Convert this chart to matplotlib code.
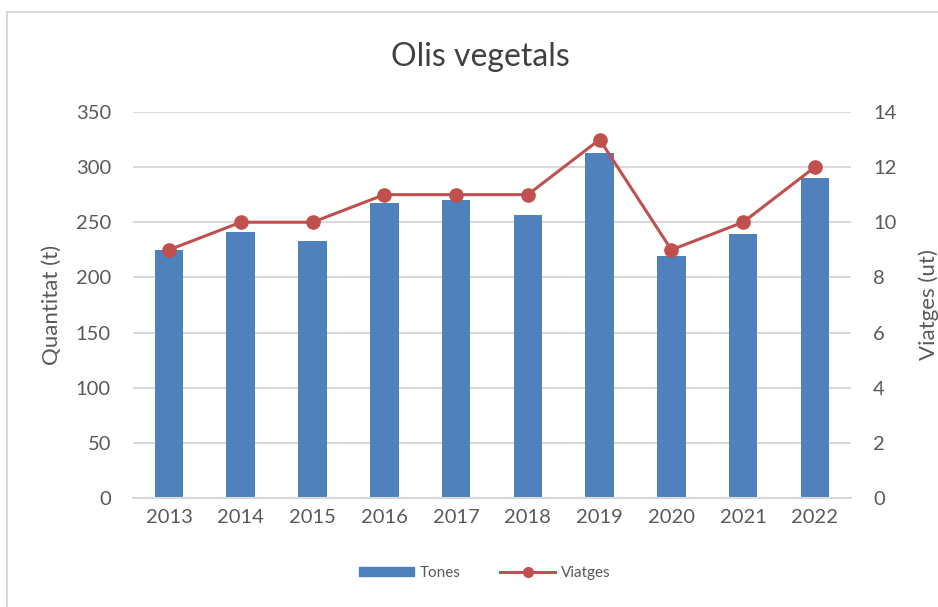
import matplotlib.pyplot as plt
from matplotlib.patches import Rectangle
from matplotlib.lines import Line2D

years = ['2013', '2014', '2015', '2016', '2017', '2018', '2019', '2020', '2021', '2022']
tones = [225, 241, 233, 267, 270, 257, 313, 219, 239, 290]
viatges = [9, 10, 10, 11, 11, 11, 13, 9, 10, 12]

txt = '#595959'
grid = '#d9d9d9'
plt.rcParams['font.family'] = ['Lato', 'DejaVu Sans']

fig = plt.figure(figsize=(9.38, 6.07), dpi=100)
ax = fig.add_axes([0.142, 0.1796, 0.765, 0.636])
ax2 = ax.twinx()

x = list(range(len(years)))
bars = ax.bar(x, tones, width=0.4, color='#4f81bd', zorder=2)
line, = ax2.plot(x, viatges, color='#c0504d', lw=2.2, marker='o', ms=9.5, zorder=3)

ax.set_ylim(0, 350)
ax.set_yticks(range(0, 351, 50))
ax2.set_ylim(0, 14)
ax2.set_yticks(range(0, 15, 2))
ax.set_xlim(-0.5, len(years) - 0.5)
ax.set_xticks(x)
ax.set_xticklabels(years)

ax.yaxis.grid(True, color=grid, lw=1.5, zorder=0)
ax.set_axisbelow(True)
for a in (ax, ax2):
    for s in a.spines.values():
        s.set_visible(False)
    a.tick_params(length=0, labelsize=14.5, colors=txt)
ax.spines['bottom'].set_visible(True)
ax.spines['bottom'].set_color(grid)
ax.spines['bottom'].set_linewidth(1.5)
ax.tick_params(axis='y', pad=16)
ax2.tick_params(axis='y', pad=16)
ax.tick_params(axis='x', pad=8)

ax.set_ylabel('Quantitat (t)', fontsize=16, color=txt, labelpad=10)
ax2.set_ylabel('Viatges (ut)', fontsize=16, color=txt, labelpad=16)
fig.text(0.512, 0.906, 'Olis vegetals', fontsize=23, color='#404040', ha='center', va='center')

handles = [Rectangle((0, 0), 1, 1, color='#4f81bd'),
           Line2D([], [], color='#c0504d', lw=2.2, marker='o', ms=7)]
fig.legend(handles, ['Tones', 'Viatges'], loc='center', bbox_to_anchor=(0.517, 0.056),
           ncol=2, frameon=False, fontsize=11, labelcolor=txt,
           handlelength=3.6, handleheight=0.6, columnspacing=2.6, handletextpad=0.35)

# chart frame
fig.patches.append(Rectangle((7 / 938, -0.1), 1.1, 1.1 - 12 / 607, transform=fig.transFigure,
                             fill=False, edgecolor=grid, lw=1.5))

fig.savefig('out.png', dpi=100)
